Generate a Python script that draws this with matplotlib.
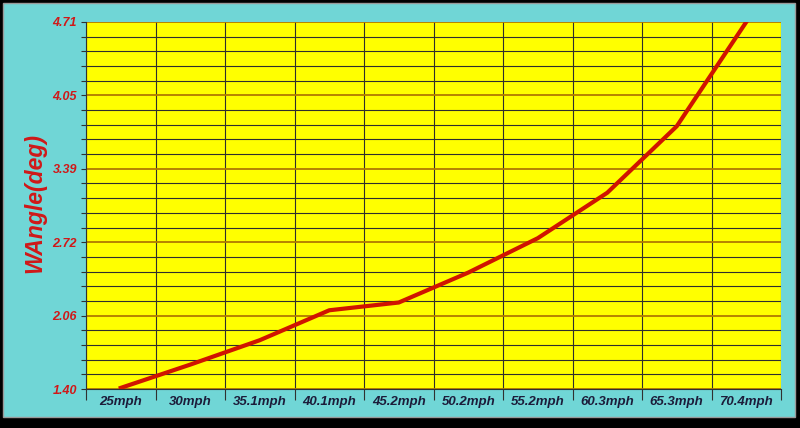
import numpy as np
import matplotlib
matplotlib.use('Agg')
import matplotlib.pyplot as plt
from matplotlib.patches import Rectangle

plt.rcParams['font.family'] = ['Liberation Sans', 'DejaVu Sans']

speeds = ['25mph', '30mph', '35.1mph', '40.1mph', '45.2mph',
          '50.2mph', '55.2mph', '60.3mph', '65.3mph', '70.4mph']
wangle = [1.41, 1.62, 1.84, 2.11, 2.18, 2.45, 2.76, 3.17, 3.77, 4.71]
ytick_vals = [1.40, 2.062, 2.724, 3.386, 4.048, 4.71]
ytick_labels = ['1.40', '2.06', '2.72', '3.39', '4.05', '4.71']

fig = plt.figure(figsize=(8, 4.28), dpi=100, facecolor='black')
# cyan panel with dark shadow on bottom/right
fig.patches.append(Rectangle((0.004, 0.026), 0.990, 0.967, transform=fig.transFigure,
                             facecolor='#70D6D6', edgecolor='#9a9a9a', linewidth=1.0, zorder=-5))

ax = fig.add_axes([86/800, 39/428, 695/800, 367/428])
ax.set_zorder(2)
ax.set_facecolor('#FFFF00')

x = np.arange(len(speeds)) + 0.5
ax.plot(x, wangle, color='#D01400', linewidth=3.0, zorder=5, clip_on=True)

ax.set_xlim(0, len(speeds))
ax.set_ylim(1.40, 4.71)

# x: long ticks on the bin edges, labels in the middle
ax.set_xticks(np.arange(len(speeds) + 1))
ax.set_xticklabels([])
ax.set_xticks(x, minor=True)
ax.set_xticklabels(speeds, minor=True, fontsize=9.5, fontweight='bold', style='italic', color='#1c1c3a')
ax.tick_params(axis='x', which='major', length=8, width=0.8, color='#303030')
ax.tick_params(axis='x', which='minor', length=0, pad=5)

ax.set_yticks(ytick_vals)
ax.set_yticklabels(ytick_labels, fontsize=9, fontweight='bold', style='italic', color='#D01818')
ax.set_yticks(np.linspace(1.40, 4.71, 26), minor=True)
ax.tick_params(axis='y', which='both', length=3.5, width=0.8, color='#303030', pad=3)

ax.xaxis.grid(True, which='major', color='#2e2e2e', linewidth=0.8)
ax.yaxis.grid(True, which='minor', color='#2e2e2e', linewidth=0.8)
ax.yaxis.grid(True, which='major', color='#B07A00', linewidth=1.3)
ax.set_axisbelow(True)

for s in ['top', 'right']:
    ax.spines[s].set_visible(False)
ax.spines['left'].set_color('#303030')
ax.spines['bottom'].set_color('#303030')
ax.spines['left'].set_linewidth(0.8)
ax.spines['bottom'].set_linewidth(0.8)

fig.text(35/800, 1 - 203/428, 'WAngle(deg)', rotation=90, ha='center', va='center',
         fontsize=16.5, fontweight='bold', style='italic', color='#D01818', zorder=3)

fig.savefig('out.png', dpi=100, facecolor=fig.get_facecolor())
